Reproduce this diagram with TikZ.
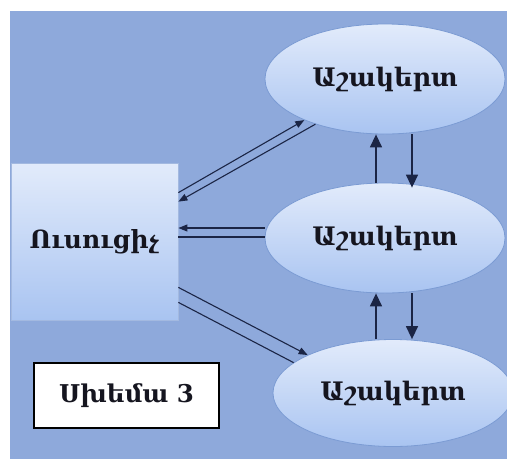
\documentclass[tikz,border=0pt]{standalone}
\usepackage{fontspec}
\usetikzlibrary{shapes.geometric,arrows.meta}
\newfontfamily\armfont{DejaVu Serif}
\definecolor{bgblue}{HTML}{8EA9DB}
\definecolor{lighttop}{HTML}{E2EBFB}
\definecolor{lightbot}{HTML}{A9C4F1}
\definecolor{rimblue}{HTML}{7B9BD3}
\definecolor{inkblue}{HTML}{1B2545}
\definecolor{textink}{HTML}{15151F}
\tikzset{
  x=1pt, y=-1pt,
  pupil/.style={ellipse, draw=rimblue, line width=0.8pt,
    top color=lighttop, bottom color=lightbot,
    minimum width=240pt, minimum height=110pt, inner sep=0pt,
    font=\armfont\bfseries\fontsize{25.5}{28}\selectfont, text=textink},
  teacher/.style={rectangle, draw=rimblue!70!white, line width=0.8pt,
    top color=lighttop, bottom color=lightbot,
    minimum width=167pt, minimum height=157pt, inner sep=0pt,
    font=\armfont\bfseries\fontsize{25}{28}\selectfont, text=textink},
  caption/.style={rectangle, draw=black, line width=1.2pt, fill=white,
    minimum width=185pt, minimum height=65pt, inner sep=0pt,
    font=\armfont\bfseries\fontsize{24.5}{28}\selectfont, text=textink},
  link/.style={draw=inkblue, line width=1.1pt},
  smalltip/.style={link, -{Triangle[length=9pt,width=7pt]}},
  bigtip/.style={link, line width=1.4pt, -{Triangle[length=13pt,width=12pt]}},
}
\begin{document}
\begin{tikzpicture}
\useasboundingbox (0,0) rectangle (507,459);
\clip (0,0) rectangle (507,459);
% backdrop
\fill[bgblue] (10,11) rectangle (507,459);

% nodes
\node[teacher] (R) at (94.5,241.5) {Ուսուցիչ};
\node[pupil] (T) at (385,79) {Աշակերտ};
\node[pupil] (M) at (385,238) {Աշակերտ};
\node[pupil, minimum height=107pt] (B) at (393,393) {Աշակերտ};
\node[caption] (C) at (126.5,395.5) {Սխեմա 3};

% teacher <-> upper pupil
\draw[smalltip] ([yshift=-30pt]R.north east) -- (T.207);
\draw[smalltip] (T.213) -- ([yshift=-39pt]R.north east);

% middle pupil -> teacher
\draw[smalltip] ([yshift=10pt]M.west) -- ([yshift=10pt]M.west -| R.east);
\draw[link] ([yshift=1pt]M.west) -- ([yshift=1pt]M.west -| R.east);

% teacher -> lower pupil
\draw[smalltip] ([yshift=33pt]R.south east) -- (B.156);
\draw[link] ([yshift=18pt]R.south east) -- (B.163);

% pupil <-> pupil
\draw[bigtip] ([xshift=-9pt]M.north) -- ([xshift=-9pt]M.north |- T.south);
\draw[bigtip] ([xshift=27pt]M.north |- T.south) -- ([xshift=27pt,yshift=-5pt]M.north);
\draw[bigtip] ([xshift=-9pt]M.south |- B.north) -- ([xshift=-9pt]M.south);
\draw[bigtip] ([xshift=27pt]M.south) -- ([xshift=27pt]M.south |- B.north);
\end{tikzpicture}
\end{document}
